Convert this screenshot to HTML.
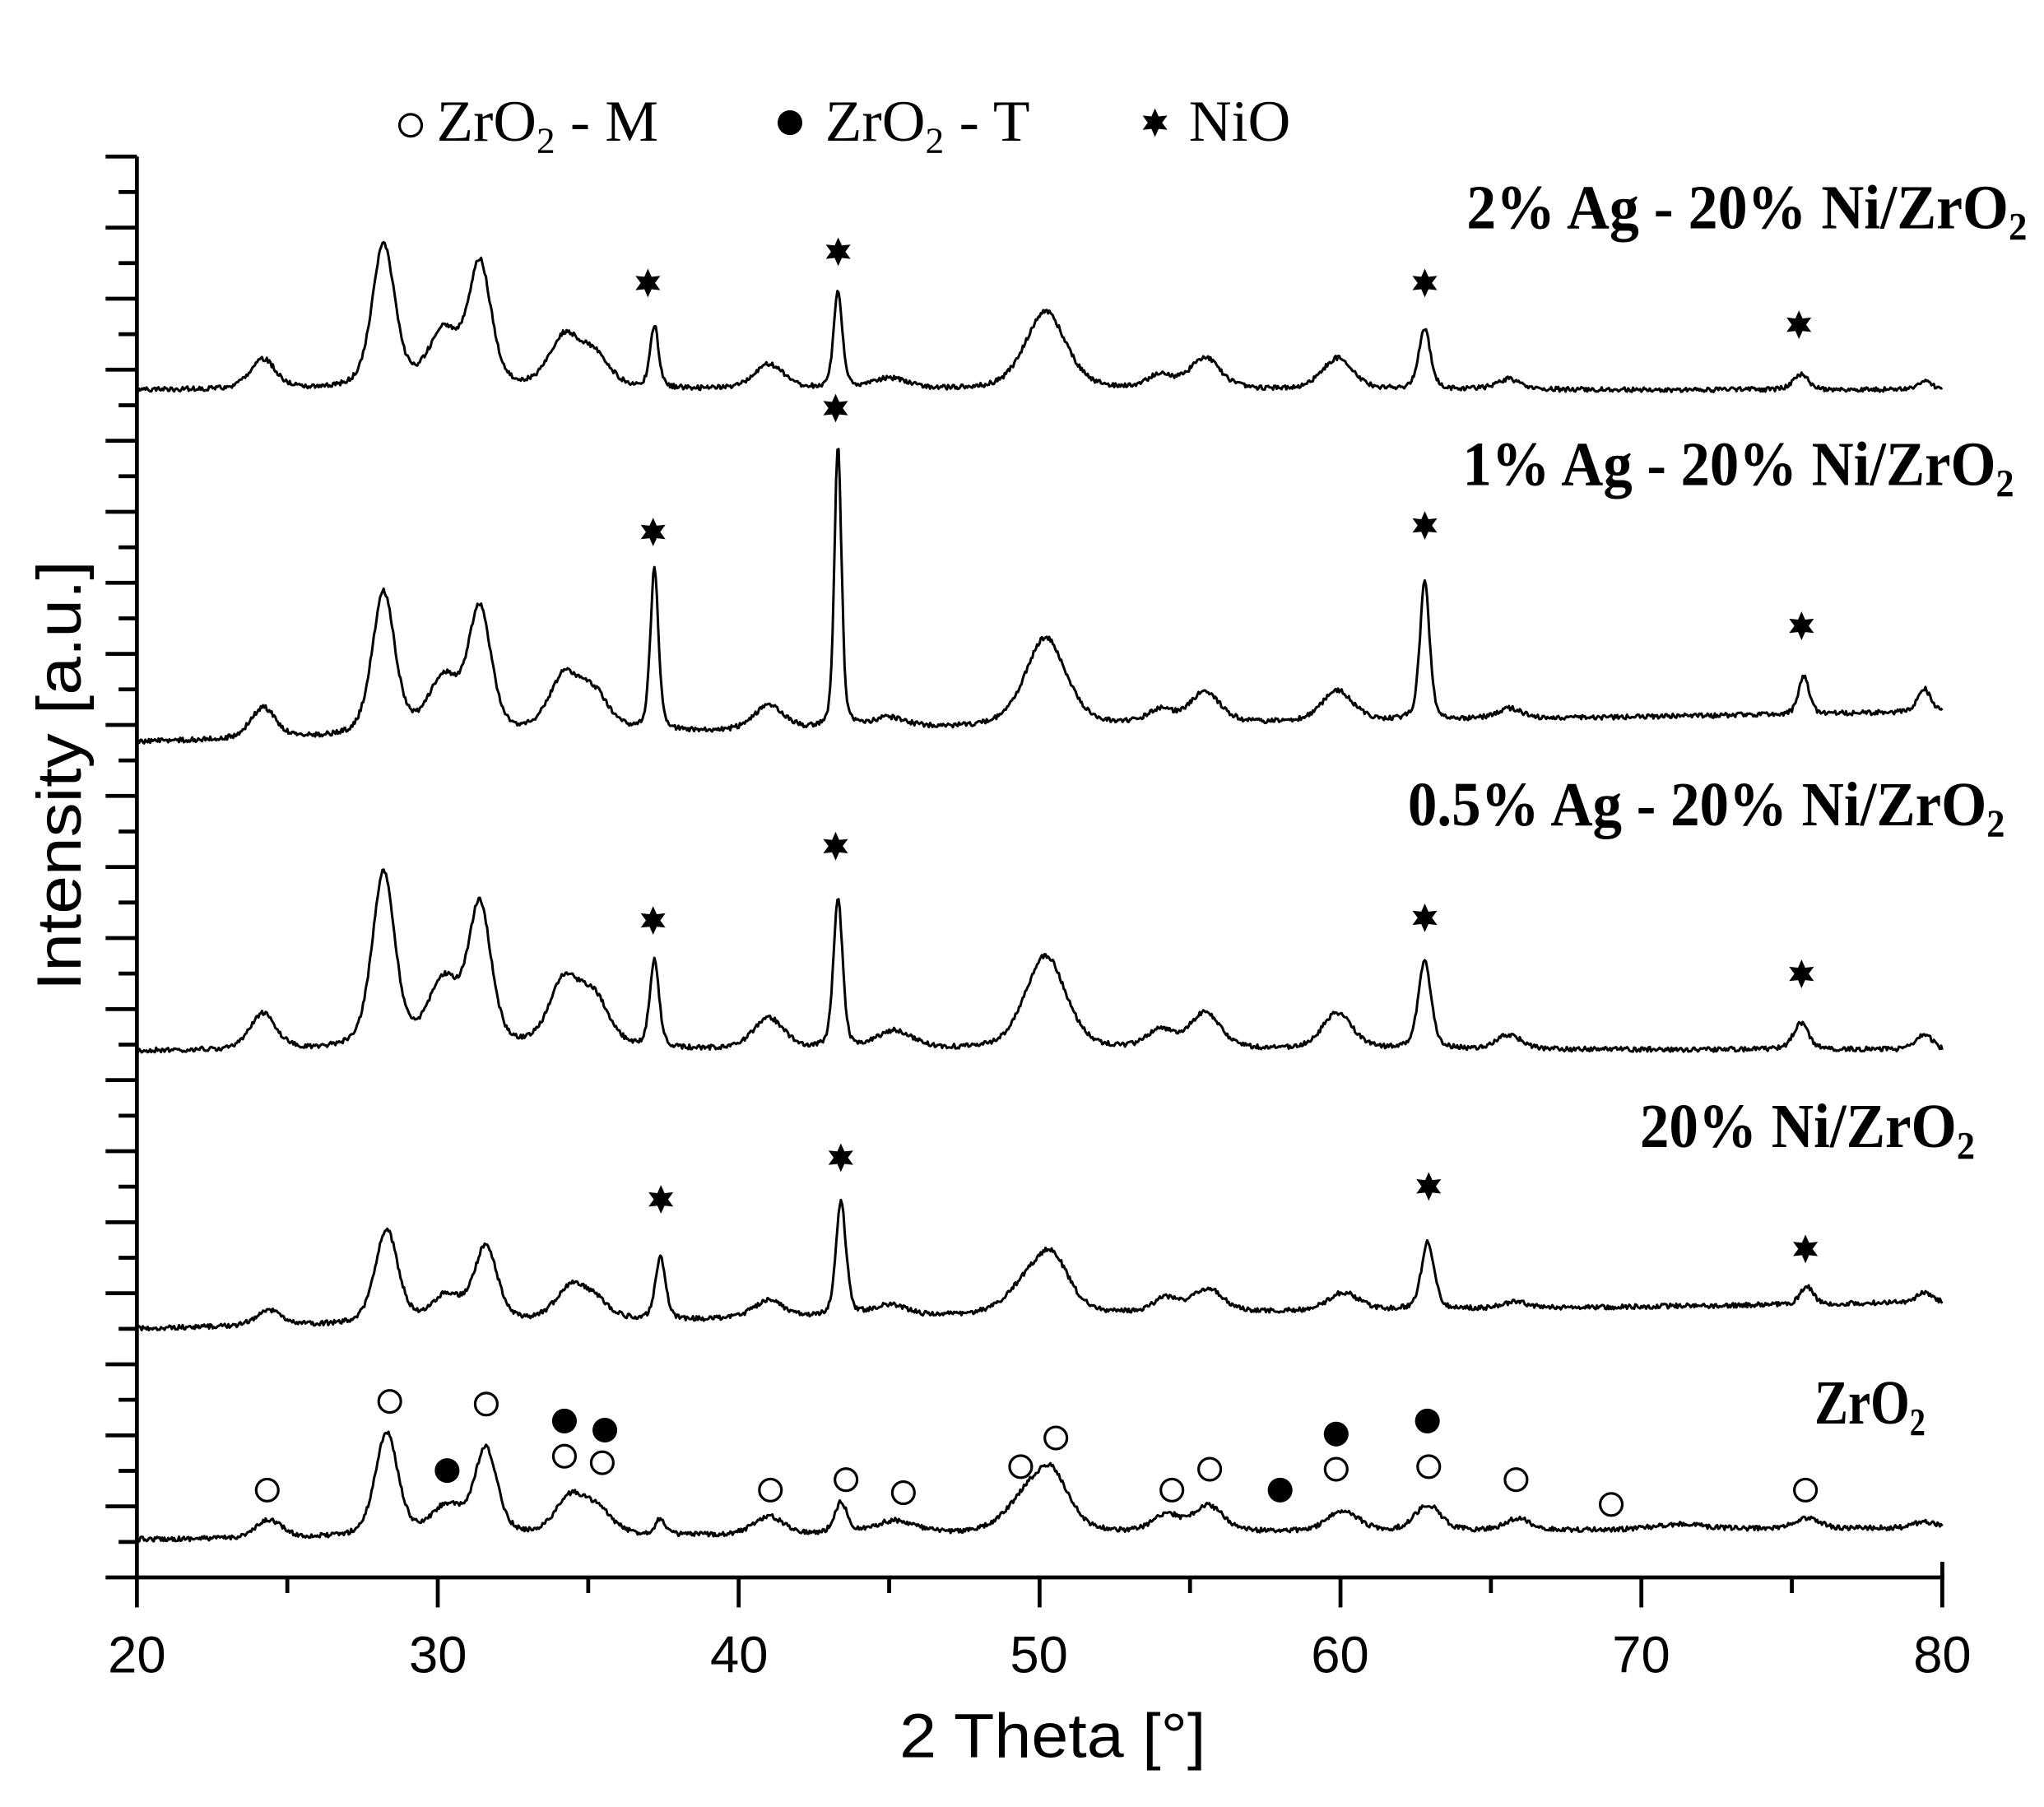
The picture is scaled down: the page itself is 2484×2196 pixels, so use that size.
<!DOCTYPE html>
<html><head><meta charset="utf-8">
<style>
html,body{margin:0;padding:0;background:#fff;}
svg{display:block;}
.lab{font-family:"Liberation Serif",serif;font-weight:bold;font-size:48px;fill:#000;}
.leg{font-family:"Liberation Serif",serif;font-size:45px;fill:#000;}
.tick{font-family:"Liberation Sans",sans-serif;font-size:40px;fill:#000;}
.ttl{font-family:"Liberation Sans",sans-serif;font-size:48px;fill:#000;}
</style></head>
<body>
<svg id="s" width="2484" height="2196" viewBox="0 0 1568 1386" xmlns="http://www.w3.org/2000/svg">
<rect width="1568" height="1386" fill="#fff"/>
<g id="axes" stroke="#000" stroke-width="3" fill="none"></g>
<g id="curves" stroke="#000" stroke-width="1.9" fill="none" stroke-linejoin="round"></g>
<g id="marks"></g>
<!-- labels -->
<text class="lab" x="1125" y="175" textLength="430" lengthAdjust="spacingAndGlyphs">2% Ag - 20% Ni/ZrO<tspan font-size="30" dy="9">2</tspan></text>
<text class="lab" x="1122" y="372" textLength="423" lengthAdjust="spacingAndGlyphs">1% Ag - 20% Ni/ZrO<tspan font-size="30" dy="9">2</tspan></text>
<text class="lab" x="1080" y="633" textLength="458" lengthAdjust="spacingAndGlyphs">0.5% Ag - 20% Ni/ZrO<tspan font-size="30" dy="9">2</tspan></text>
<text class="lab" x="1258" y="880" textLength="257" lengthAdjust="spacingAndGlyphs">20% Ni/ZrO<tspan font-size="30" dy="9">2</tspan></text>
<text class="lab" x="1392" y="1092" textLength="85" lengthAdjust="spacingAndGlyphs">ZrO<tspan font-size="30" dy="9">2</tspan></text>
<!-- legend -->
<circle cx="315" cy="96" r="8.5" fill="#fff" stroke="#000" stroke-width="2"/>
<text class="leg" x="335" y="108" textLength="170" lengthAdjust="spacingAndGlyphs">ZrO<tspan font-size="28" dy="9">2</tspan><tspan dy="-9"> - M</tspan></text>
<circle cx="606" cy="94" r="9.5" fill="#000"/>
<text class="leg" x="633" y="108" textLength="157" lengthAdjust="spacingAndGlyphs">ZrO<tspan font-size="28" dy="9">2</tspan><tspan dy="-9"> - T</tspan></text>
<g id="legstar"></g>
<text class="leg" x="912" y="108" textLength="78" lengthAdjust="spacingAndGlyphs">NiO</text>
<!-- tick labels -->
<text class="tick" x="105" y="1283" text-anchor="middle">20</text>
<text class="tick" x="336" y="1283" text-anchor="middle">30</text>
<text class="tick" x="567" y="1283" text-anchor="middle">40</text>
<text class="tick" x="797" y="1283" text-anchor="middle">50</text>
<text class="tick" x="1028" y="1283" text-anchor="middle">60</text>
<text class="tick" x="1259" y="1283" text-anchor="middle">70</text>
<text class="tick" x="1490" y="1283" text-anchor="middle">80</text>
<text class="ttl" x="690" y="1348" textLength="235" lengthAdjust="spacingAndGlyphs">2 Theta [°]</text>
<text class="ttl" transform="translate(62,760) rotate(-90)" textLength="330" lengthAdjust="spacingAndGlyphs">Intensity [a.u.]</text>
</svg>
<script>
(function(){
var NS="http://www.w3.org/2000/svg";
function X(t){return 105+(t-20)*23.083;}
var axes=document.getElementById('axes');
function line(x1,y1,x2,y2,w){var l=document.createElementNS(NS,'line');l.setAttribute('x1',x1);l.setAttribute('y1',y1);l.setAttribute('x2',x2);l.setAttribute('y2',y2);if(w)l.setAttribute('stroke-width',w);axes.appendChild(l);}
line(105,120,105,1211.5);line(103.5,1210,1491.5,1210);line(1490,1210,1490,1198);
var top=120,bot=1210,n=40,sp=(bot-top)/n;
for(var i=0;i<=n;i++){var y=top+i*sp;line(i%2==0?81:91,y,105,y);}
for(var t=20;t<=80;t+=5){var x=X(t);line(x,1210,x,(t%10==0)?1233:1222);}
function rnd(seed){var s=seed;return function(){s=(s*16807)%2147483647;return (s/2147483647)-0.5;};}
function curve(b0,b1,peaks,seed){
 var r=rnd(seed),d="";
 for(var t=20;t<=80.001;t+=0.04){
  var y=b0+(b1-b0)*(t-20)/60;
  for(var k=0;k<peaks.length;k++){var p=peaks[k];var w=p[2]||0.45;var u=(t-p[0])/w;
   y-=p[1]*(0.6*Math.exp(-0.693*u*u)+0.4/(1+u*u));}
  y+=r()*3.6;
  d+=(d?"L":"M")+X(t).toFixed(1)+","+y.toFixed(1);
 }
 var p=document.createElementNS(NS,'path');p.setAttribute('d',d);document.getElementById('curves').appendChild(p);
}
curve(1181,1172,[[24.4,14,.5],[28.3,80,.45],[30.3,22,.6],[31.6,66,.45],[34.4,28,.6],[35.3,18,.6],[37.4,12,.2],[41,14,.6],[43.4,24,.25],[45.2,10,.8],[49.5,22,.8],[50.4,42,.7],[54.2,13,.5],[55.6,20,.6],[60.1,16,.6],[62.9,20,.5],[65.9,9,.5],[71.3,4,1],[75.5,8,.5],[79.4,5,.4]],12345);
curve(1019,999,[[24.4,12,.5],[28.3,72,.45],[30.3,20,.6],[31.6,58,.45],[34.4,24,.6],[35.2,14,.6],[37.4,48,.2],[41,14,.6],[43.4,88,.2],[45,9,.7],[49.5,18,.8],[50.4,42,.7],[54.2,11,.5],[55.6,18,.6],[60.1,14,.6],[62.9,52,.25],[65.8,5,.5],[75.5,14,.25],[79.4,8,.3]],777);
curve(806,805,[[24.2,28,.5],[28.2,135,.45],[30.2,50,.6],[31.4,108,.45],[34.2,50,.6],[35.2,36,.6],[37.2,68,.18],[41,24,.6],[43.3,115,.18],[45.2,14,.7],[50.2,72,.8],[54,14,.5],[55.5,28,.6],[59.9,28,.6],[62.8,68,.25],[65.6,11,.5],[75.3,20,.3],[79.4,12,.3]],4242);
curve(569,546,[[24.2,24,.5],[28.2,110,.45],[30.2,42,.6],[31.4,95,.45],[34.2,42,.6],[35.2,28,.6],[37.2,125,.16],[41,19,.6],[43.3,218,.14],[45,8,.7],[50.2,68,.8],[54,10,.5],[55.5,24,.6],[59.9,24,.6],[62.8,106,.19],[65.6,8,.5],[75.4,29,.2],[79.4,18,.25]],999);
curve(299,299,[[24.2,23,.5],[28.2,110,.45],[30.2,42,.6],[31.4,94,.45],[34.2,38,.6],[35.2,24,.6],[37.2,47,.17],[41,19,.6],[43.3,74,.17],[45,8,.7],[50.2,60,.8],[54,10,.5],[55.5,24,.6],[59.9,24,.6],[62.8,46,.23],[65.6,8,.5],[75.3,12,.3],[79.4,6,.3]],31337);
var marks=document.getElementById('marks');
function star(cx,cy,r,parent){var pts=[];for(var i=0;i<12;i++){var a=-Math.PI/2+i*Math.PI/6;var rr=(i%2==0)?r:r*0.5;pts.push((cx+rr*Math.cos(a)).toFixed(1)+","+(cy+rr*Math.sin(a)).toFixed(1));}
 var p=document.createElementNS(NS,'polygon');p.setAttribute('points',pts.join(' '));p.setAttribute('fill','#000');(parent||marks).appendChild(p);}
[[497,217],[643,193],[1093,217],[1380,249],[501,408],[641,313],[1093,403],[1382,480],[501,706],[641,649],[1093,704],[1382,747],[507,920],[645,888],[1096,910],[1385,958]].forEach(function(s){star(s[0],s[1],11);});
star(886,94,11,document.getElementById('legstar'));
function circ(cx,cy,f){var c=document.createElementNS(NS,'circle');c.setAttribute('cx',cx);c.setAttribute('cy',cy);c.setAttribute('r',f?9.5:8.5);c.setAttribute('fill',f?'#000':'#fff');if(!f){c.setAttribute('stroke','#000');c.setAttribute('stroke-width','2');}marks.appendChild(c);}
[[205,1143],[299,1075],[373,1077],[433,1117],[462,1122],[591,1143],[649,1135],[693,1145],[783,1125],[810,1103],[899,1143],[928,1127],[1025,1127],[1096,1125],[1163,1135],[1236,1154],[1385,1143]].forEach(function(c){circ(c[0],c[1],false);});
[[343,1128],[433,1090],[464,1097],[982,1143],[1025,1100],[1095,1090]].forEach(function(c){circ(c[0],c[1],true);});
})();
</script>
</body></html>
